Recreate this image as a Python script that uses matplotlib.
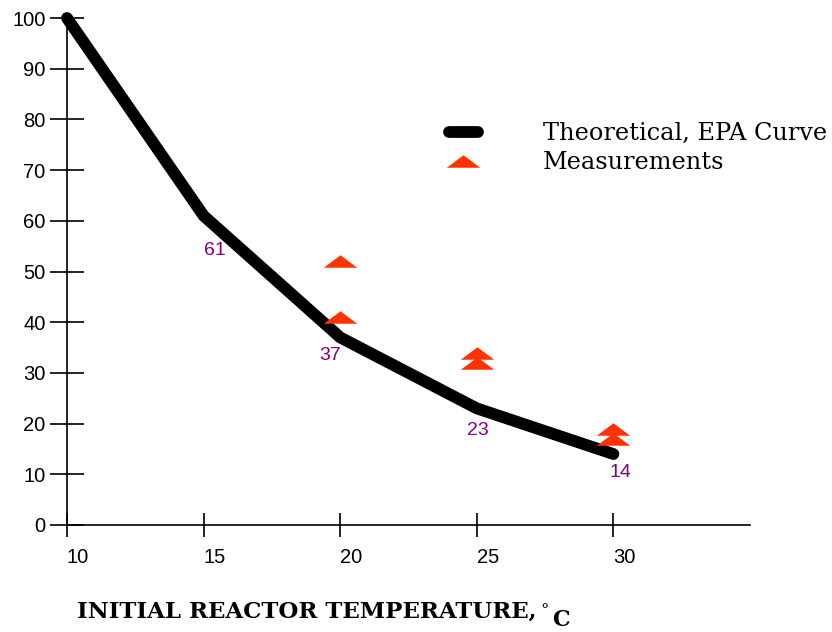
import numpy as np
import matplotlib.pyplot as plt
from matplotlib.lines import Line2D
from matplotlib.path import Path

# EPA theoretical curve
temps = [10, 15, 20, 25, 30]
epa_curve = [100, 61, 37, 23, 14]
curve_labels = ["61", "37", "23", "14"]

# measured points
meas_temps = [20, 20, 25, 25, 30, 30]
meas_vals = [52, 41, 34, 32, 19, 17]

purple = "#800080"
tri_color = "#ff3300"

# flat triangle marker
tri = Path([(-1, -0.375), (1, -0.375), (0, 0.375), (-1, -0.375)],
           [Path.MOVETO, Path.LINETO, Path.LINETO, Path.CLOSEPOLY])

fig = plt.figure(figsize=(8.32, 6.32), dpi=100)
ax = fig.add_axes([67 / 832, 107 / 632, 683 / 832, 507 / 632])

ax.plot(temps, epa_curve, color="black", lw=8.5, solid_capstyle="round",
        solid_joinstyle="miter", clip_on=False, zorder=3)
ax.plot(meas_temps, meas_vals, ls="none", marker=tri, markersize=24,
        markerfacecolor=tri_color, markeredgecolor="none", clip_on=False, zorder=4)

# value labels under the curve
offsets = [(8, -25), (-7, -13), (1, -16), (5, -13)]
for x, y, s, off in zip(temps[1:], epa_curve[1:], curve_labels, offsets):
    ax.annotate(s, (x, y), xytext=off, textcoords="offset points",
                ha="center", va="center", color=purple, fontsize=14,
                family="Liberation Sans")

ax.set_xlim(10, 35)
ax.set_ylim(0, 100)
ax.set_xticks([10, 15, 20, 25, 30])
ax.set_yticks(range(0, 101, 10))

for s in ["top", "right"]:
    ax.spines[s].set_visible(False)
for s in ["left", "bottom"]:
    ax.spines[s].set_linewidth(1.2)

ax.tick_params(axis="y", direction="inout", length=25, width=1.2, pad=3,
               labelsize=14.5)
ax.tick_params(axis="x", direction="inout", length=17, width=1.2, pad=8,
               labelsize=14.5)
for lab in ax.get_xticklabels() + ax.get_yticklabels():
    lab.set_family("Liberation Sans")
for lab in ax.get_xticklabels():
    lab.set_ha("left")

handles = [
    Line2D([], [], color="black", lw=8.5, solid_capstyle="round"),
    Line2D([], [], ls="none", marker=tri, markersize=24,
           markerfacecolor=tri_color, markeredgecolor="none"),
]
ax.legend(handles, ["Theoretical, EPA Curve", "Measurements"],
          loc="upper left", bbox_to_anchor=(382 / 683, 1 - 104 / 507),
          frameon=False, prop={"family": "DejaVu Serif", "size": 17.3},
          handlelength=1.2, handletextpad=2.7, labelspacing=0.25,
          borderpad=0, borderaxespad=0)

# x axis title with degree sign raised and C dropped
t = fig.text(77 / 832, 1 - 618 / 632, "INITIAL REACTOR TEMPERATURE,",
             family="DejaVu Serif", weight="bold", fontsize=16.5,
             ha="left", va="baseline")
ax.annotate("°", xy=(1, 0), xycoords=t, xytext=(3, 6),
            textcoords="offset points", family="DejaVu Serif", fontsize=12,
            ha="left", va="baseline")
ax.annotate("C", xy=(1, 0), xycoords=t, xytext=(11, -2),
            textcoords="offset points", family="DejaVu Serif", weight="bold",
            fontsize=16, ha="left", va="baseline")

fig.savefig("out.png", dpi=100)
